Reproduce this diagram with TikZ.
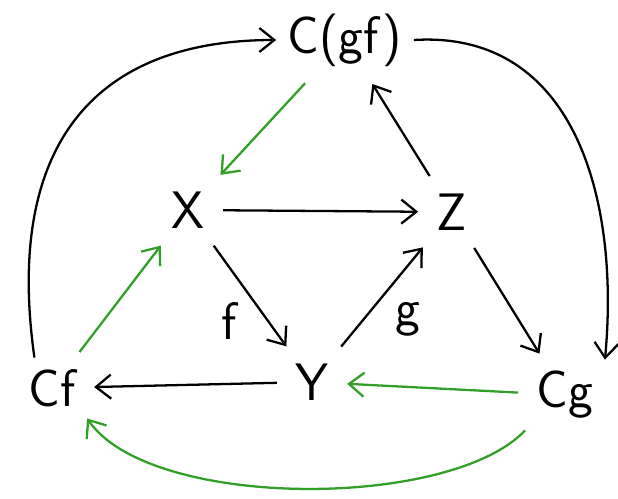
\documentclass[tikz,border=0pt]{standalone}
\usepackage{tikz}
\usetikzlibrary{arrows.meta}
\definecolor{tgreen}{RGB}{50,160,40}

\begin{document}
\begin{tikzpicture}[font=\sffamily\fontsize{30}{36}\selectfont, >={Straight Barb[length=3mm,width=4.8mm]},
  line width=1.3pt, obj/.style={inner sep=6pt}, arr/.style={->,shorten >=4pt,shorten <=4pt}]
  \useasboundingbox (0,0) rectangle (12.36,-9.96);
  \node[obj] (Cgf) at (6.9,-0.8) {C(gf)};
  \node[obj] (X) at (3.76,-4.2) {X};
  \node[obj] (Z) at (9.04,-4.24) {Z};
  \node[obj] (Y) at (6.24,-7.64) {Y};
  \node[obj] (Cf) at (1.04,-7.76) {Cf};
  \node[obj] (Cg) at (11.3,-7.9) {Cg};
  % triangle
  \draw[arr] (X) -- (Z);
  \draw[arr] (X) -- (Y) node[pos=0.72,left=14pt] {f};
  \draw[arr] (Y) -- (Z) node[pos=0.3,right=14pt] {g};
  % cones
  \draw[arr] (Z) -- (Cgf);
  \draw[arr,tgreen] (Cgf) -- (X);
  \draw[arr] (Z) -- (Cg);
  \draw[arr] (Y) -- (Cf);
  \draw[arr,tgreen] (Cg) -- (Y);
  \draw[arr,tgreen] (Cf) -- (X);
  % outer arcs
  \draw[->] ([xshift=-10pt]Cf.north) .. controls (0.1,-3.0) and (1.8,-0.8) .. (Cgf.west);
  \draw[->] (Cgf.east) .. controls (11.5,-0.6) and (12.4,-4.0) .. (Cg.north east);
  \draw[->,tgreen] (Cg.south west) .. controls (9,-10.2) and (3,-10.2) .. (Cf.south east);
\end{tikzpicture}
\end{document}
